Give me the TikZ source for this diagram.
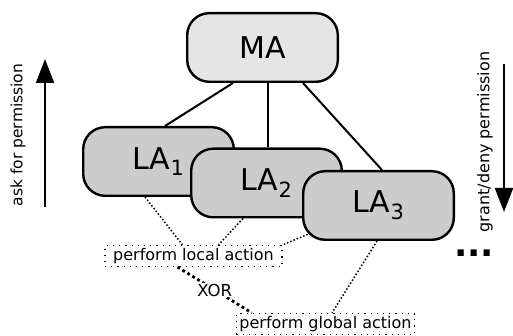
\documentclass[tikz,border=0pt]{standalone}
\usepackage{fontspec}
\setmainfont{DejaVu Sans}
\usetikzlibrary{arrows.meta}

\begin{document}
\begin{tikzpicture}[
  x=1pt, y=-1pt,
  agent/.style={draw, line width=2.4pt, rounded corners=22pt, minimum width=150.6pt,
    minimum height=68.6pt, inner sep=0pt, font=\fontsize{30}{36}\selectfont},
  master/.style={agent, fill=black!10},
  localagent/.style={agent, fill=black!20},
  actionbox/.style={draw, line width=1.2pt, dash pattern=on 1.2pt off 5pt,
    minimum width=177pt, minimum height=21pt, inner sep=0pt, font=\fontsize{16}{19}\selectfont},
  link/.style={line width=2pt},
  hint/.style={line width=1.5pt, dash pattern=on 1.5pt off 2pt},
  flow/.style={line width=2pt, -{Triangle[length=24pt,width=18pt]}}
]
\useasboundingbox (0,0) rectangle (513,336);

% agents
\node[master] (MA) at (262.5,47.5) {MA};
\node[localagent] (LA1) at (158.5,161.5) {LA\textsubscript{1}};
\node[localagent] (LA2) at (266.5,183) {LA\textsubscript{2}};
\node[localagent] (LA3) at (378.5,205.5) {LA\textsubscript{3}};

% actions
\node[actionbox] (localact) at (193.5,256) {perform local action};
\node[actionbox, minimum width=178pt] (globalact) at (325.5,324) {perform global action};

% master to local agents
\draw[link] ([xshift=-29.5pt]MA.south) -- ([xshift=6.5pt]LA1.north);
\draw[link] ([xshift=5.5pt]MA.south) -- ([xshift=1.5pt]LA2.north);
\draw[link] ([xshift=40.5pt]MA.south) -- ([xshift=3.5pt]LA3.north);

% agents to actions
\draw[hint] ([xshift=-13.5pt]LA1.south) -- ([xshift=-11pt]localact.north);
\draw[hint] ([xshift=-23.5pt]LA2.south) -- ([xshift=25pt]localact.north);
\draw[hint] ([xshift=9pt,yshift=8pt]LA3.south west) -- (localact.north east);
\draw[hint] ([xshift=-1.5pt]LA3.south) -- ([xshift=6.5pt]globalact.north);
\draw[line width=2.8pt, dash pattern=on 2.8pt off 3pt] ([xshift=-16pt]localact.south)
  -- node[fill=white, inner sep=1pt, font=\fontsize{16.5}{19}\selectfont] (xor) {XOR}
  ([xshift=16pt]globalact.north west);

% permission flow
\coordinate (askfrom) at (45,207);
\coordinate (askto) at (45,59);
\draw[flow] (askfrom) -- (askto);
\node[rotate=90, font=\fontsize{15.5}{18}\selectfont] (asklabel) at (18,135) {ask for permission};
\coordinate (grantfrom) at (504,64);
\coordinate (grantto) at (504,212);
\draw[flow] (grantfrom) -- (grantto);
\node[rotate=90, font=\fontsize{16}{19}\selectfont] (grantlabel) at (485,142) {grant/deny permission};

\node[anchor=base, inner sep=0pt, font=\bfseries\fontsize{35}{40}\selectfont] (more) at (474,256) {...};
\end{tikzpicture}
\end{document}
